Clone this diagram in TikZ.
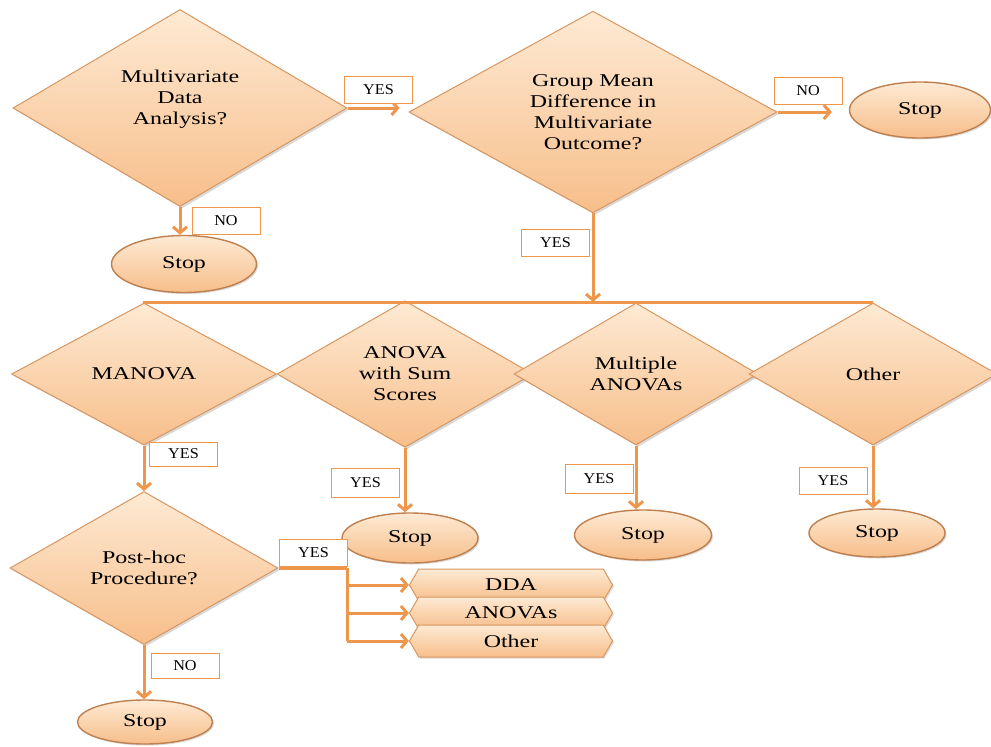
\documentclass[tikz,border=0pt]{standalone}
\usepackage{fontspec}
\setmainfont[FakeStretch=1.33]{Liberation Serif}
\newfontfamily\tagfont[FakeStretch=1.08]{Liberation Serif}
\usepackage{tikz}
\usetikzlibrary{arrows.meta,shadows}
\usetikzlibrary{shapes.geometric,shapes.symbols}
\usetikzlibrary{positioning}

\definecolor{flowor}{RGB}{238,150,76}
\definecolor{peachtop}{RGB}{254,234,212}
\definecolor{peachbot}{RGB}{247,190,138}
\definecolor{peachrim}{RGB}{216,150,96}
\definecolor{stoprim}{RGB}{190,128,78}

\tikzset{
	decision/.style={diamond, draw=peachrim, line width=1pt, top color=peachtop, bottom color=peachbot,
		inner sep=0pt, align=center, font=\fontsize{18}{21}\selectfont,
		drop shadow={shadow xshift=2pt, shadow yshift=-2pt, opacity=0.3}},
	stopnode/.style={ellipse, draw=stoprim, line width=1.4pt, top color=peachtop, bottom color=peachbot,
		inner sep=0pt, font=\fontsize{18}{21}\selectfont,
		drop shadow={shadow xshift=1.5pt, shadow yshift=-1.5pt, opacity=0.3}},
	choice/.style={signal, signal to=east and west, signal pointer angle=120, draw=peachrim, line width=1pt,
		top color=peachtop, bottom color=peachbot, inner sep=0pt, minimum width=203, minimum height=32,
		font=\fontsize{18}{21}\selectfont,
		drop shadow={shadow xshift=1.5pt, shadow yshift=-1.5pt, opacity=0.25}},
	tag/.style={draw=flowor, line width=0.8pt, fill=white, minimum width=68, minimum height=27,
		inner sep=0pt, font=\tagfont\fontsize{15}{17}\selectfont},
	conn/.style={draw=flowor, line width=3pt, -{Straight Barb[length=6pt,width=14pt]}},
	bar/.style={draw=flowor, line width=3pt}
}

\begin{document}
\begin{tikzpicture}[x=1pt,y=-1pt]
	\useasboundingbox (0,0) rectangle (991,747);

	% first question
	\node[decision, minimum width=334, minimum height=197] (q1) at (180,108) {Multivariate\\Data\\Analysis?\\\mbox{}};
	\node[decision, minimum width=368, minimum height=200] (q2) at (593,112) {Group Mean\\Difference in\\Multivariate\\Outcome?};
	\node[stopnode, minimum width=145, minimum height=57] (stopa) at (184,264) {Stop};
	\node[stopnode, minimum width=141, minimum height=56] (stopb) at (920,110) {Stop};

	% methods
	\coordinate (barl) at (143,302);
	\coordinate (barr) at (873,302);
	\node[decision, minimum width=265, minimum height=142] (manova) at (144,374) {MANOVA};
	\node[decision, minimum width=256, minimum height=142] (sumsc) at (405,374) {ANOVA\\with Sum\\Scores};
	\node[decision, minimum width=244, minimum height=142] (multi) at (636,374) {Multiple\\ANOVAs};
	\node[decision, minimum width=248, minimum height=142] (other) at (873,374) {Other};
	\node[stopnode, minimum width=136, minimum height=50] (stopc) at (410,538) {Stop};
	\node[stopnode, minimum width=137, minimum height=50] (stopd) at (643,535) {Stop};
	\node[stopnode, minimum width=136, minimum height=48] (stope) at (877,533) {Stop};

	% post-hoc
	\node[decision, minimum width=268, minimum height=153] (posthoc) at (144,568) {Post-hoc\\Procedure?};
	\node[stopnode, minimum width=135, minimum height=44] (stopf) at (145,722) {Stop};
	\node[choice] (dda) at (511,585) {DDA};
	\node[choice] (anovas) at (511,613) {ANOVAs};
	\node[choice] (othr) at (511,641) {Other};
	\coordinate (split) at (347,568);

	\draw[conn, shorten >=9pt] (q1.east) -- (q1.east -| q2.west);
	\draw[conn] (q1.south) -- (q1.south |- stopa.north);
	\draw[conn, shorten >=17pt] (q2.east) -- (q2.east -| stopb.west);
	\draw[conn] (q2.south) -- (q2.south |- barl);
	\draw[bar] (barl) -- (barr);
	\draw[conn] (manova.south) -- (posthoc.north);
	\draw[conn] (sumsc.south) -- (sumsc.south |- stopc.north);
	\draw[conn] (multi.south) -- (multi.south |- stopd.north);
	\draw[conn] (other.south) -- (other.south |- stope.north);
	\draw[conn] (posthoc.south) -- (posthoc.south |- stopf.north);
	\draw[bar] (posthoc.east) -- (split);
	\draw[conn] (split) |- (dda.west);
	\draw[conn] (split |- anovas.west) -- (anovas.west);
	\draw[conn] (split |- othr.west) -- (othr.west);
	\draw[bar] (split) -- (split |- othr.west);

	\node[tag] (yes1) at (378.5,89.5) {YES};
	\node[tag] (no1) at (226,220.5) {NO};
	\node[tag] (no2) at (808,91) {NO};
	\node[tag] (yes2) at (555.5,242.5) {YES};
	\node[tag, minimum height=24] (yes3) at (183.5,454) {YES};
	\node[tag, minimum height=29] (yes4) at (365.5,482.5) {YES};
	\node[tag, minimum height=29] (yes5) at (599,478.5) {YES};
	\node[tag] (yes6) at (833,481) {YES};
	\node[tag] (yes7) at (313.5,553) {YES};
	\node[tag, minimum height=25] (no3) at (185,665.5) {NO};
\end{tikzpicture}
\end{document}
